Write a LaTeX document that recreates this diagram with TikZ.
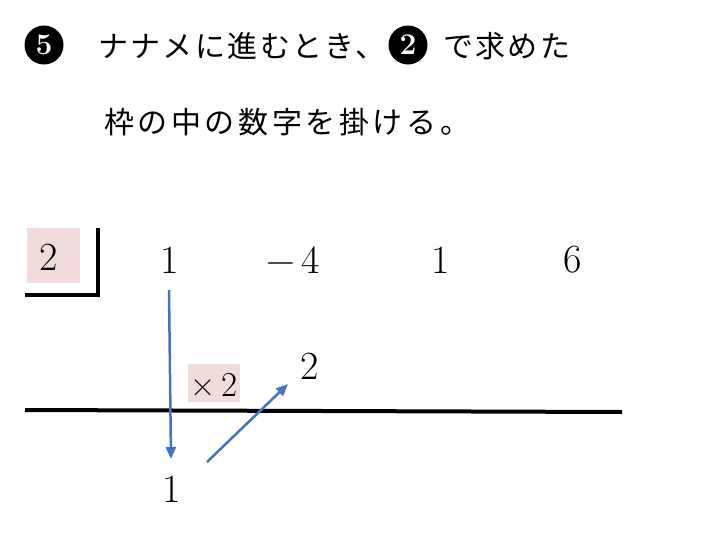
\documentclass[tikz,border=0pt]{standalone}
\usepackage{fontspec}
\setmainfont{Latin Modern Roman}
\newfontfamily\jpfont[LetterSpace=8]{Noto Sans CJK JP}
\usetikzlibrary{arrows.meta}
\definecolor{pinkbg}{HTML}{F2DCDB}
\definecolor{arrowblue}{HTML}{4472C4}
\begin{document}
\begin{tikzpicture}[x=1pt,y=-1pt,
  jp/.style={font=\jpfont\fontsize{30}{30}\selectfont, inner sep=0pt, anchor=west},
  circnum/.style={circle, fill=black, text=white, minimum size=39pt, inner sep=0pt, font=\bfseries\fontsize{30}{30}\selectfont},
  num/.style={font=\fontsize{40}{40}\selectfont, inner sep=0pt},
  smallnum/.style={font=\fontsize{35}{35}\selectfont, inner sep=0pt},
  pinkbox/.style={fill=pinkbg, inner sep=0pt},
  thickline/.style={line width=4pt},
  bluearrow/.style={draw=arrowblue, line width=2.5pt, -{Triangle[length=12pt,width=10pt]}}]
\useasboundingbox (0,0) rectangle (707,541);
% title
\node[circnum] (c5) at (44,45) {5};
\node[jp] (t1) at (98,46) {ナナメに進むとき、};
\node[circnum] (c2) at (408,45) {2};
\node[jp] (t2) at (443,46) {で求めた};
\node[jp, font=\jpfont\addfontfeature{LetterSpace=12}\fontsize{30}{30}\selectfont] (t3) at (104,122) {枠の中の数字を掛ける。};
% divisor box
\node[pinkbox, minimum width=53pt, minimum height=55pt] (dbox) at (53,255) {};
\node[num] (d) at (49,257) {2};
\draw[thickline] (25,295) -- (98,295) -- (98,228);
% coefficients
\node[num] (n1) at (170,260) {1};
\node[num] (n2) at (293,260) {−\,4};
\node[num] (n3) at (441,260) {1};
\node[num] (n4) at (573,260) {6};
% middle row
\node[pinkbox, minimum width=52pt, minimum height=38pt] (mbox) at (214,383) {};
\node[smallnum] (m) at (214,385) {×\,2};
\node[num] (p2) at (310,366) {2};
% result line
\draw[thickline] (25,410) -- (622,412);
\node[num] (r1) at (172,489) {1};
% arrows
\coordinate (a1s) at (169,290);
\coordinate (a1e) at (171,459);
\coordinate (a2s) at (207,462);
\coordinate (a2e) at (288,384);
\draw[bluearrow] (a1s) -- (a1e);
\draw[bluearrow] (a2s) -- (a2e);
\end{tikzpicture}
\end{document}
